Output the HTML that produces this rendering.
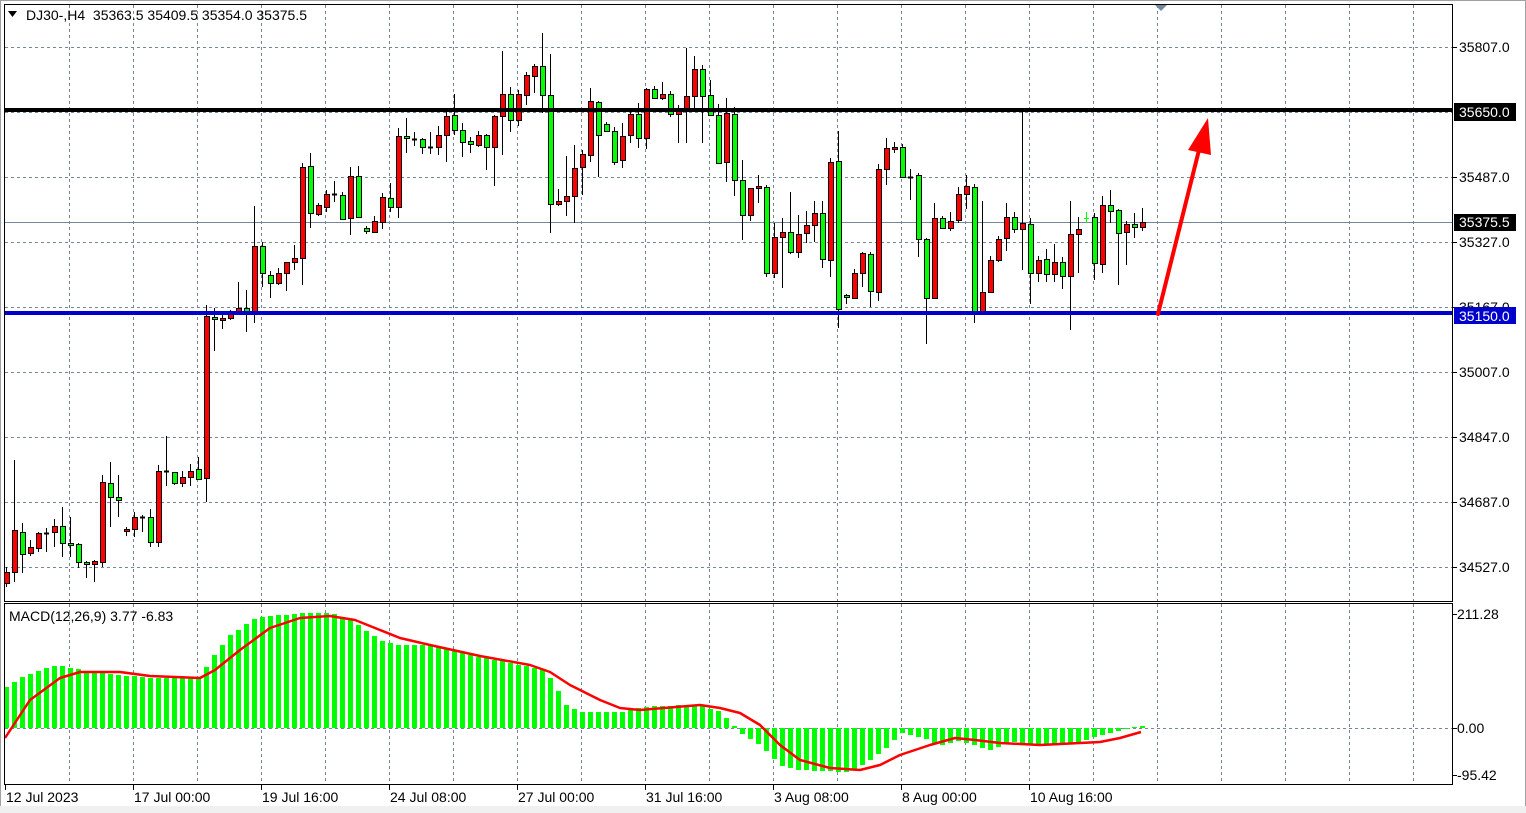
<!DOCTYPE html>
<html><head><meta charset="utf-8">
<style>
html,body{margin:0;padding:0;background:#fff;}
svg{display:block;font-family:"Liberation Sans",Tahoma,sans-serif;}
</style></head>
<body>
<svg id="s" width="1526" height="813" xmlns="http://www.w3.org/2000/svg"></svg>
<script>
var S=document.getElementById('s');var out=[];
function a(t){out.push(t);}
a('<rect x="0" y="0" width="1526" height="813" fill="#fff"/>');
a('<rect x="0.5" y="0.5" width="1525" height="812" fill="none" stroke="#a0a0a0"/>');
a('<rect x="0" y="806" width="1526" height="7" fill="#f0f0f0"/>');
for(var gx=69;gx<1452;gx+=64){
 a('<line x1="'+(gx+.5)+'" y1="5" x2="'+(gx+.5)+'" y2="601" stroke="#76879a" stroke-dasharray="3,3"/>');
 a('<line x1="'+(gx+.5)+'" y1="604" x2="'+(gx+.5)+'" y2="784" stroke="#76879a" stroke-dasharray="3,3"/>');
}
var hy=[47,112,177,242,307,372,437,502,567];
hy.forEach(function(y){a('<line x1="5" y1="'+(y+.5)+'" x2="1452" y2="'+(y+.5)+'" stroke="#76879a" stroke-dasharray="3,3"/>');});
a('<line x1="5" y1="222.5" x2="1452" y2="222.5" stroke="#76879a"/>');
a('<line x1="5" y1="728.5" x2="1452" y2="728.5" stroke="#76879a" stroke-dasharray="3,3"/>');
var C=[
[572,583,567,587,'r'],[530,572,460,582,'r'],[532,554,523,573,'g'],[547,553,540,556,'r'],[533,548,532,552,'r'],[533,533,528,552,'d'],[526,532,519,547,'r'],[526,543,507,557,'g'],[543,544,517,557,'g'],[544,562,543,568,'g'],
[562,564,561,578,'g'],[561,564,560,582,'r'],[482,562,475,567,'r'],[483,497,462,527,'g'],[497,500,475,517,'g'],[529,531,527,536,'r'],[517,529,512,537,'r'],[517,517,515,532,'d'],[517,542,509,547,'g'],[471,542,465,547,'r'],
[471,471,436,486,'d'],[472,483,472,485,'g'],[477,483,471,487,'r'],[471,477,464,486,'r'],[469,479,457,480,'g'],[316,478,305,502,'r'],[317,319,308,351,'g'],[318,320,312,329,'r'],[314,318,310,320,'r'],[308,312,282,315,'r'],
[308,312,290,332,'g'],[246,313,206,323,'r'],[246,273,242,287,'g'],[275,283,271,298,'g'],[273,283,268,285,'r'],[262,273,262,291,'r'],[258,262,245,270,'r'],[167,258,163,285,'r'],[166,213,153,228,'g'],[205,214,203,216,'r'],
[194,207,190,212,'r'],[194,194,181,202,'d'],[195,219,192,220,'g'],[176,218,167,235,'r'],[176,217,166,217,'g'],[228,231,226,234,'g'],[221,232,216,233,'r'],[197,222,193,229,'r'],[198,207,183,212,'g'],[136,207,128,218,'r'],
[136,138,118,153,'g'],[139,139,132,146,'d'],[139,147,138,154,'g'],[147,147,132,154,'d'],[135,147,126,155,'r'],[116,135,112,162,'r'],[115,130,94,135,'g'],[130,142,123,157,'g'],[141,144,137,153,'g'],[135,145,131,147,'r'],
[135,147,134,170,'g'],[116,147,115,186,'r'],[94,116,51,155,'r'],[94,120,87,132,'g'],[94,120,90,126,'r'],[75,95,72,105,'r'],[66,76,64,93,'r'],[66,95,33,113,'g'],[95,204,54,233,'g'],[201,204,189,206,'r'],
[196,201,156,216,'r'],[168,196,145,223,'r'],[154,167,150,195,'r'],[101,155,88,162,'r'],[102,135,101,177,'g'],[124,131,122,132,'g'],[131,162,127,165,'g'],[136,160,123,168,'r'],[114,135,110,143,'r'],[114,138,103,148,'g'],
[89,138,88,149,'r'],[89,98,86,99,'g'],[94,98,82,100,'r'],[94,114,91,117,'g'],[111,114,105,143,'r'],[96,111,48,143,'r'],[69,96,56,108,'r'],[69,96,65,143,'g'],[95,115,80,116,'g'],[115,163,104,164,'g'],
[113,162,98,182,'r'],[114,180,107,196,'g'],[180,215,160,240,'g'],[188,215,188,221,'r'],[186,188,175,203,'r'],[187,273,185,277,'g'],[237,273,223,278,'r'],[232,237,218,288,'r'],[232,252,192,254,'g'],[234,252,215,258,'r'],
[225,233,211,243,'r'],[213,225,201,242,'r'],[213,259,201,268,'g'],[162,260,158,277,'r'],[161,309,131,328,'g'],[295,297,294,304,'g'],[273,298,269,299,'r'],[253,273,252,287,'r'],[254,291,252,307,'g'],[169,292,164,301,'r'],
[148,169,138,185,'r'],[147,149,142,153,'r'],[147,177,144,177,'g'],[177,177,169,200,'d'],[175,239,173,257,'g'],[239,298,238,344,'g'],[218,298,203,298,'r'],[218,228,216,229,'g'],[221,228,212,231,'r'],[194,220,187,223,'r'],
[186,194,175,209,'r'],[187,311,184,323,'g'],[292,311,201,311,'r'],[260,292,256,292,'r'],[239,260,236,262,'r'],[217,238,203,251,'r'],[217,229,212,233,'g'],[223,229,112,270,'r'],[224,273,218,304,'g'],[260,273,256,282,'r'],
[259,274,249,282,'g'],[262,274,244,282,'r'],[262,276,257,289,'g'],[234,276,201,330,'r'],[229,234,217,273,'r'],[218,218,212,223,'l'],[217,263,213,280,'g'],[205,264,196,273,'r'],[205,211,190,223,'g'],[210,233,209,285,'g'],
[224,232,221,265,'r'],[224,227,213,238,'g'],[222,227,208,231,'r']
];
C.forEach(function(c,i){
 var cx=6+8*i;
 if(c[4]=='l'){a('<line x1="'+(cx+.5)+'" y1="'+c[2]+'" x2="'+(cx+.5)+'" y2="'+c[3]+'" stroke="#00ff00"/><line x1="'+(cx-2)+'" y1="218.5" x2="'+(cx+3)+'" y2="218.5" stroke="#00ff00"/>');return;}
 a('<line x1="'+(cx+.5)+'" y1="'+c[2]+'" x2="'+(cx+.5)+'" y2="'+c[3]+'" stroke="#000"/>');
 if(c[4]=='d'){a('<line x1="'+(cx-2)+'" y1="'+(c[0]+.5)+'" x2="'+(cx+3)+'" y2="'+(c[0]+.5)+'" stroke="#000" stroke-width="2"/>');return;}
 var h=Math.max(c[1]-c[0],2);
 a('<rect x="'+(cx-2)+'.5" y="'+c[0]+'.5" width="5" height="'+h+'" fill="'+(c[4]=='r'?'#ff0000':'#00ff00')+'" stroke="#000"/>');
});
a('<rect x="5" y="108" width="1447" height="4" fill="#000"/>');
a('<rect x="5" y="311" width="1447" height="4" fill="#0000cc"/>');
a('<line x1="1158" y1="314" x2="1199" y2="150" stroke="#ff0000" stroke-width="4" stroke-linecap="round"/>');
a('<polygon points="1208,118 1188,150 1211,155" fill="#ff0000"/>');
a('<polygon points="1155,5 1167,5 1161,11" fill="#76879a"/>');
var HK=[[5,688],[20,678],[45,668],[60,665],[70,668],[100,673],[150,678],[200,678],[210,660],[230,635],[255,618],[300,613],[330,613],[350,620],[380,640],[400,645],[430,645],[470,655],[520,665],[545,670],[555,685],[565,705],[580,712],[620,712],[650,706],[700,705],[720,712],[730,722],[740,733],[760,745],[780,765],[800,770],[850,772],[870,760],[890,745],[900,733],[920,737],[940,745],[960,741],[990,750],[1010,742],[1040,745],[1060,745],[1080,742],[1100,735],[1120,730],[1141,726]];
function interp(K,x){for(var k=0;k<K.length-1;k++){if(x<=K[k+1][0]){var t=(x-K[k][0])/(K[k+1][0]-K[k][0]);if(t<0)t=0;return K[k][1]+t*(K[k+1][1]-K[k][1]);}}return K[K.length-1][1];}
for(var i=0;i<143;i++){
 var cx=6+8*i;var y=Math.round(interp(HK,cx));
 var t=Math.min(y,728),b=Math.max(y,728);if(b-t<1)b=t+1;
 a('<rect x="'+(cx-2)+'" y="'+t+'" width="5" height="'+(b-t)+'" fill="#00ff00"/>');
}
var SK=[[5,738],[30,700],[60,678],[80,672],[120,672],[150,676],[200,678],[215,670],[240,650],[270,628],[300,618],[330,616],[355,620],[380,630],[400,638],[430,645],[480,656],[530,665],[550,672],[570,685],[600,700],[620,708],[640,710],[700,705],[720,708],[740,713],[760,725],[780,745],[800,760],[830,768],[860,770],[880,765],[900,755],[930,745],[955,738],[975,740],[1000,743],[1040,745],[1060,744],[1100,742],[1120,738],[1141,732]];
a('<polyline points="'+SK.map(function(p){return p.join(',');}).join(' ')+'" fill="none" stroke="#ff0000" stroke-width="2.5" stroke-linejoin="round"/>');
a('<rect x="4.5" y="4.5" width="1448" height="597" fill="none" stroke="#000"/>');
a('<rect x="4.5" y="603.5" width="1448" height="181" fill="none" stroke="#000"/>');
var PL=[[47,'35807.0'],[177,'35487.0'],[242,'35327.0'],[307,'35167.0'],[372,'35007.0'],[437,'34847.0'],[502,'34687.0'],[567,'34527.0']];
PL.forEach(function(p){a('<line x1="1453" y1="'+(p[0]+.5)+'" x2="1457" y2="'+(p[0]+.5)+'" stroke="#000"/><text x="1459" y="'+(p[0]+5)+'" font-size="14" fill="#000">'+p[1]+'</text>');});
a('<rect x="1454" y="103" width="62" height="18" fill="#000"/><text x="1459" y="117" font-size="14" fill="#fff">35650.0</text>');
a('<rect x="1454" y="214" width="62" height="17" fill="#000"/><text x="1459" y="227" font-size="14" fill="#fff">35375.5</text>');
a('<rect x="1454" y="307" width="62" height="17" fill="#0000cc"/><text x="1459" y="321" font-size="14" fill="#fff">35150.0</text>');
[[614,'211.28'],[728,'0.00'],[775,'-95.42']].forEach(function(p){a('<line x1="1453" y1="'+(p[0]+.5)+'" x2="1457" y2="'+(p[0]+.5)+'" stroke="#000"/><text x="1457" y="'+(p[0]+5)+'" font-size="14" fill="#000">'+p[1]+'</text>');});
[[5,'12 Jul 2023'],[133,'17 Jul 00:00'],[261,'19 Jul 16:00'],[389,'24 Jul 08:00'],[517,'27 Jul 00:00'],[645,'31 Jul 16:00'],[773,'3 Aug 08:00'],[901,'8 Aug 00:00'],[1029,'10 Aug 16:00']].forEach(function(p){
 a('<line x1="'+(p[0]+.5)+'" y1="785" x2="'+(p[0]+.5)+'" y2="790" stroke="#000"/><text x="'+(p[0]+1)+'" y="802" font-size="14" fill="#000">'+p[1]+'</text>');});
a('<polygon points="8,11 17,11 12.5,17" fill="#000"/>');
a('<text x="26" y="20" font-size="14" fill="#000" xml:space="preserve">DJ30-,H4  35363.5 35409.5 35354.0 35375.5</text>');
a('<text x="9" y="621" font-size="14" fill="#000">MACD(12,26,9) 3.77 -6.83</text>');
S.innerHTML=out.join('');
</script>
</body></html>
